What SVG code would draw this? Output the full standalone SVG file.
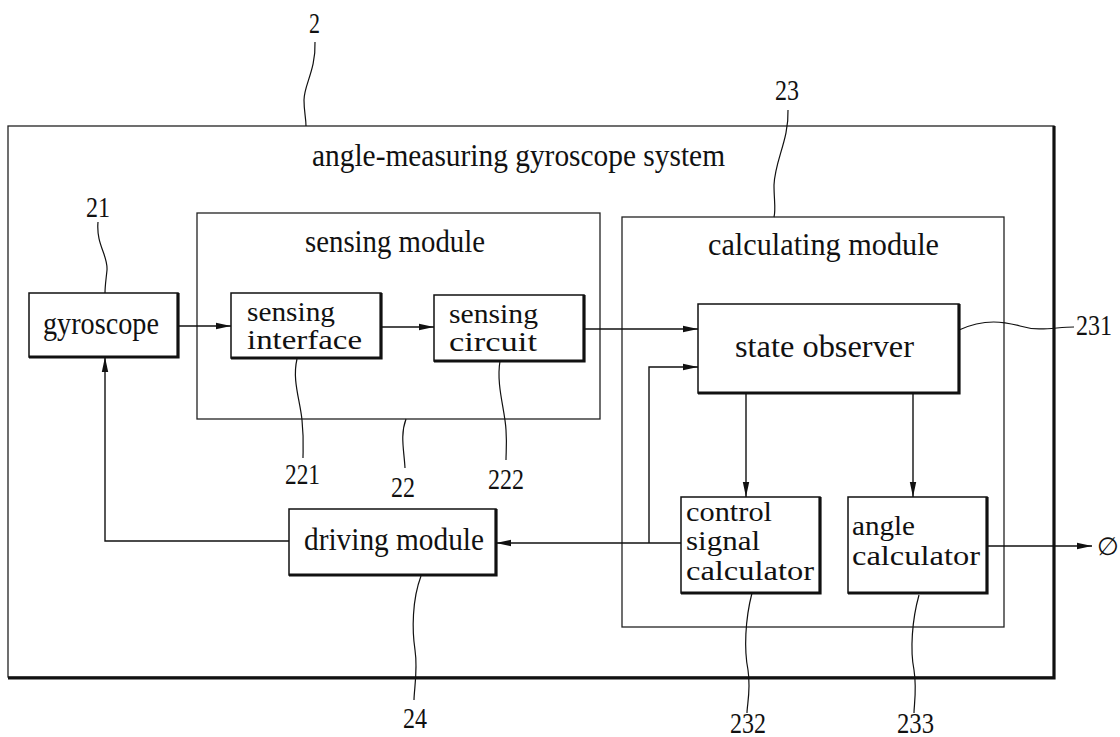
<svg xmlns="http://www.w3.org/2000/svg" width="1120" height="737" viewBox="0 0 1120 737">
<style>
  text { font-family: "Liberation Serif", "Times New Roman", serif; font-size: 31px; fill: #111; }
  .ml { font-size: 28px; }
  .num { font-size: 30px; }
  .sym { font-size: 25px; }
  .box { fill: #fff; stroke: #111; stroke-width: 1.5; }
  .shadow { fill: none; stroke: #111; stroke-width: 3.2; }
  .mod { fill: none; stroke: #222; stroke-width: 1.3; }
  .conn { fill: none; stroke: #111; stroke-width: 1.4; }
  .lead { fill: none; stroke: #111; stroke-width: 1.2; }
</style>
<defs>
  <marker id="arr" markerUnits="userSpaceOnUse" markerWidth="16" markerHeight="8" refX="15" refY="4" orient="auto">
    <path d="M0,0.8 L15,4 L0,7.2 z" fill="#111"/>
  </marker>
</defs>
<rect width="1120" height="737" fill="#fff"/>

<g id="system">
  <rect class="mod" x="8" y="126" width="1046" height="551" stroke-width="1.6"/>
  <path class="shadow" d="M1054,126 V678 H8" stroke-width="3.6"/>
  <text x="312" y="166" textLength="413" lengthAdjust="spacingAndGlyphs">angle-measuring gyroscope system</text>
</g>

<g id="sensing-module">
  <rect class="mod" x="197" y="213" width="403" height="206"/>
  <text x="305" y="252" textLength="180" lengthAdjust="spacingAndGlyphs">sensing module</text>
</g>

<g id="calculating-module">
  <rect class="mod" x="622" y="217" width="382" height="410"/>
  <text x="708" y="255" textLength="231" lengthAdjust="spacingAndGlyphs">calculating module</text>
</g>

<g id="gyroscope">
  <rect class="box" x="29" y="293" width="149" height="64"/>
  <path class="shadow" d="M178,293 V357 H29"/>
  <text x="43" y="334" textLength="116" lengthAdjust="spacingAndGlyphs">gyroscope</text>
</g>

<g id="sensing-interface">
  <rect class="box" x="231" y="293" width="150" height="65"/>
  <path class="shadow" d="M381,293 V358 H231"/>
  <text class="ml" x="247" y="321" textLength="88" lengthAdjust="spacingAndGlyphs">sensing</text>
  <text class="ml" x="247" y="349" textLength="115" lengthAdjust="spacingAndGlyphs">interface</text>
</g>

<g id="sensing-circuit">
  <rect class="box" x="434" y="295" width="150" height="66"/>
  <path class="shadow" d="M584,295 V361 H434"/>
  <text class="ml" x="449" y="323" textLength="89" lengthAdjust="spacingAndGlyphs">sensing</text>
  <text class="ml" x="449" y="351" textLength="88" lengthAdjust="spacingAndGlyphs">circuit</text>
</g>

<g id="state-observer">
  <rect class="box" x="698" y="304" width="261" height="89"/>
  <path class="shadow" d="M959,304 V393 H698"/>
  <text x="735" y="357" textLength="179" lengthAdjust="spacingAndGlyphs">state observer</text>
</g>

<g id="control-signal-calculator">
  <rect class="box" x="681" y="497" width="139" height="96"/>
  <path class="shadow" d="M820,497 V593 H681"/>
  <text class="ml" x="686" y="521" textLength="86" lengthAdjust="spacingAndGlyphs">control</text>
  <text class="ml" x="686" y="550" textLength="74" lengthAdjust="spacingAndGlyphs">signal</text>
  <text class="ml" x="686" y="580" textLength="128" lengthAdjust="spacingAndGlyphs">calculator</text>
</g>

<g id="angle-calculator">
  <rect class="box" x="848" y="497" width="139" height="96"/>
  <path class="shadow" d="M987,497 V593 H848"/>
  <text class="ml" x="852" y="535" textLength="63" lengthAdjust="spacingAndGlyphs">angle</text>
  <text class="ml" x="852" y="565" textLength="128" lengthAdjust="spacingAndGlyphs">calculator</text>
</g>

<g id="driving-module">
  <rect class="box" x="289" y="509" width="207" height="66"/>
  <path class="shadow" d="M496,509 V575 H289"/>
  <text x="304" y="550" textLength="180" lengthAdjust="spacingAndGlyphs">driving module</text>
</g>

<g id="connectors">
  <path class="conn" d="M178,326 H231" marker-end="url(#arr)"/>
  <path class="conn" d="M381,327 H434" marker-end="url(#arr)"/>
  <path class="conn" d="M584,329 H698" marker-end="url(#arr)"/>
  <path class="conn" d="M681,543 H496" marker-end="url(#arr)"/>
  <path class="conn" d="M649,543 V367 H698" marker-end="url(#arr)"/>
  <path class="conn" d="M746,393 V497" marker-end="url(#arr)"/>
  <path class="conn" d="M913,393 V497" marker-end="url(#arr)"/>
  <path class="conn" d="M289,541 H105 V357" marker-end="url(#arr)"/>
  <path class="conn" d="M987,546 H1092" marker-end="url(#arr)"/>
</g>

<g id="output-label">
  <text class="sym" x="1097" y="555">∅</text>
</g>

<g id="reference-labels">
  <path class="lead" d="M315,42 C316,70 304,85 304,100 C304,112 306,118 306,126"/>
  <text class="num" x="309" y="33" textLength="11" lengthAdjust="spacingAndGlyphs">2</text>

  <path class="lead" d="M98,222 C96,245 108,255 107,270 C106,280 105,286 105,293"/>
  <text class="num" x="86" y="217" textLength="24" lengthAdjust="spacingAndGlyphs">21</text>

  <path class="lead" d="M788,110 C789,140 775,160 774,185 C774,200 776,210 774,217"/>
  <text class="num" x="775" y="100" textLength="24" lengthAdjust="spacingAndGlyphs">23</text>

  <path class="lead" d="M297,359 C292,380 300,400 302,420 C304,440 303,450 303,458"/>
  <text class="num" x="285" y="484" textLength="35" lengthAdjust="spacingAndGlyphs">221</text>

  <path class="lead" d="M406,419 C400,435 404,450 405,468"/>
  <text class="num" x="391" y="497" textLength="24" lengthAdjust="spacingAndGlyphs">22</text>

  <path class="lead" d="M500,361 C496,385 505,410 506,430 C507,445 506,452 506,460"/>
  <text class="num" x="488" y="489" textLength="36" lengthAdjust="spacingAndGlyphs">222</text>

  <path class="lead" d="M421,576 C412,600 412,630 415,650 C418,670 414,690 414,700"/>
  <text class="num" x="403" y="728" textLength="24" lengthAdjust="spacingAndGlyphs">24</text>

  <path class="lead" d="M959,330 C985,318 1005,322 1020,326 C1040,332 1055,327 1074,327"/>
  <text class="num" x="1076" y="335" textLength="36" lengthAdjust="spacingAndGlyphs">231</text>

  <path class="lead" d="M752,593 C745,620 744,650 748,670 C751,690 747,705 747,713"/>
  <text class="num" x="730" y="733" textLength="36" lengthAdjust="spacingAndGlyphs">232</text>

  <path class="lead" d="M919,595 C912,620 910,650 914,670 C917,690 914,705 914,713"/>
  <text class="num" x="897" y="733" textLength="37" lengthAdjust="spacingAndGlyphs">233</text>
</g>
</svg>
